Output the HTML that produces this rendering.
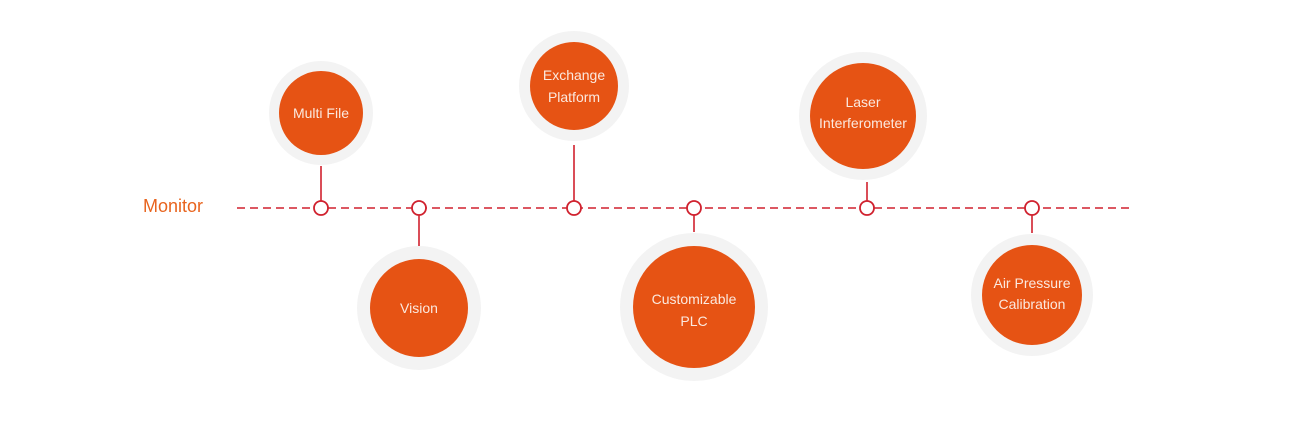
<!DOCTYPE html>
<html><head><style>
html,body{margin:0;padding:0;background:#fff;}
svg{display:block}
text{font-family:"Liberation Sans",sans-serif;}
</style></head><body>
<svg width="1313" height="421" viewBox="0 0 1313 421" xmlns="http://www.w3.org/2000/svg">
<text x="143" y="212" font-size="18" fill="#e8641e">Monitor</text>
<line x1="237" y1="208" x2="1130" y2="208" stroke="#d0212e" stroke-width="1.6" stroke-dasharray="8,5"/>
<g stroke="#d0212e" stroke-width="1.6">
<line x1="321" y1="166" x2="321" y2="201"/>
<line x1="419" y1="215" x2="419" y2="246"/>
<line x1="574" y1="145" x2="574" y2="201"/>
<line x1="694" y1="215" x2="694" y2="232"/>
<line x1="867" y1="182" x2="867" y2="201"/>
<line x1="1032" y1="215" x2="1032" y2="233"/>
</g>
<g fill="#fff" stroke="#d0212e" stroke-width="1.8">
<circle cx="321" cy="208" r="7"/><circle cx="419" cy="208" r="7"/><circle cx="574" cy="208" r="7"/>
<circle cx="694" cy="208" r="7"/><circle cx="867" cy="208" r="7"/><circle cx="1032" cy="208" r="7"/>
</g>
<g fill="#f3f3f3">
<circle cx="321" cy="113" r="52"/><circle cx="419" cy="308" r="62"/><circle cx="574" cy="86" r="55"/>
<circle cx="694" cy="307" r="74"/><circle cx="863" cy="116" r="64"/><circle cx="1032" cy="295" r="61"/>
</g>
<g fill="#e65314">
<circle cx="321" cy="113" r="42"/><circle cx="419" cy="308" r="49"/><circle cx="574" cy="86" r="44"/>
<circle cx="694" cy="307" r="61"/><circle cx="863" cy="116" r="53"/><circle cx="1032" cy="295" r="50"/>
</g>
<g fill="#fbe9df" font-size="14" text-anchor="middle">
<text x="321" y="118">Multi File</text>
<text x="419" y="313">Vision</text>
<text x="574" y="80">Exchange</text><text x="574" y="102">Platform</text>
<text x="694" y="304">Customizable</text><text x="694" y="326">PLC</text>
<text x="863" y="107">Laser</text><text x="863" y="128">Interferometer</text>
<text x="1032" y="288">Air Pressure</text><text x="1032" y="309">Calibration</text>
</g>
</svg>
</body></html>
